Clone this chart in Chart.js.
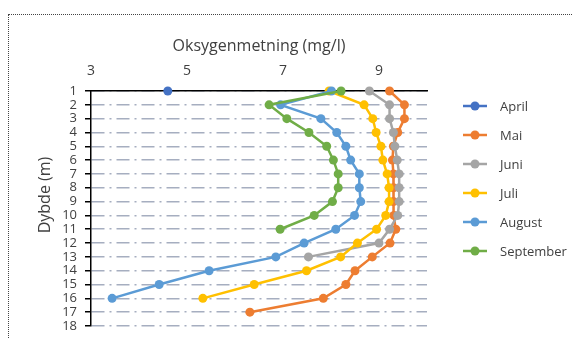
<!DOCTYPE html>
<html>
<head>
<meta charset="utf-8">
<script src="https://cdn.jsdelivr.net/npm/chart.js@4"></script>
<style>
  body { margin: 0; background: #fff; }
  #wrap { position: relative; width: 572px; height: 338px; overflow: hidden; }
  #frame { position: absolute; left: 8px; top: 14px; width: 700px; height: 500px; border: 1px dotted #444; }
  canvas { position: absolute; left: 0; top: 0; }
</style>
</head>
<body>
<div id="wrap">
  <div id="frame"></div>
  <canvas id="chart" width="572" height="338"></canvas>
</div>
<script>
// dybde (m) og oksygen per måned
const depths = [1, 2, 3, 4, 5, 6, 7, 8, 9, 10, 11, 12, 13, 14, 15, 16, 17, 18];
const xTicks = [3, 5, 7, 9];
const april = [4.6];
const mai = [9.22, 9.53, 9.53, 9.39, 9.30, 9.28, 9.30, 9.30, 9.30, 9.31, 9.35, 9.23, 8.86, 8.50, 8.31, 7.84, 6.31];
const juni = [8.80, 9.22, 9.22, 9.30, 9.33, 9.38, 9.42, 9.42, 9.42, 9.39, 9.22, 9.00, 7.53];
const juli = [7.96, 8.69, 8.87, 8.94, 9.04, 9.08, 9.17, 9.21, 9.21, 9.14, 8.95, 8.55, 8.20, 7.49, 6.40, 5.33];
const august = [8.01, 6.95, 7.79, 8.12, 8.31, 8.41, 8.59, 8.59, 8.62, 8.49, 8.10, 7.44, 6.85, 5.46, 4.42, 3.44];
const september = [8.21, 6.71, 7.08, 7.54, 7.91, 8.05, 8.15, 8.15, 8.03, 7.65, 6.94];

const FONT = "'Open Sans', sans-serif";

// lag ett datasett: verdi på x, dybde på y
const makeSet = (label, values, color, i) => ({
    label: label,
    data: values.map((v, k) => ({ x: v, y: depths[k] })),
    borderColor: color,
    backgroundColor: color,
    borderWidth: 2.5,
    pointRadius: 4.5,
    pointBorderWidth: 0,
    pointHoverRadius: 4.5,
    clip: false,
    order: 10 - i // senere serier tegnes øverst
});

const series = [
    ['April', april, '#4472C4'],
    ['Mai', mai, '#ED7D31'],
    ['Juni', juni, '#A5A5A5'],
    ['Juli', juli, '#FFC000'],
    ['August', august, '#5B9BD5'],
    ['September', september, '#70AD47']
];

// egen forklaring og y-tittel
const extras = {
    id: 'extras',
    afterDraw(chart) {
        const ctx = chart.ctx;
        ctx.save();
        ctx.font = '13px ' + FONT;
        ctx.textBaseline = 'middle';
        series.forEach((s, i) => {
            const y = 106 + i * 29;
            ctx.strokeStyle = s[2];
            ctx.lineWidth = 2.5;
            ctx.beginPath();
            ctx.moveTo(463, y);
            ctx.lineTo(487, y);
            ctx.stroke();
            ctx.fillStyle = s[2];
            ctx.beginPath();
            ctx.arc(475, y, 4.5, 0, Math.PI * 2);
            ctx.fill();
            ctx.fillStyle = '#404040';
            ctx.textAlign = 'left';
            ctx.fillText(s[0], 500, y + 1);
        });
        ctx.translate(45, 195);
        ctx.rotate(-Math.PI / 2);
        ctx.font = '16px ' + FONT;
        ctx.textAlign = 'center';
        ctx.fillStyle = '#404040';
        ctx.fillText('Dybde (m)', 0, 0);
        ctx.restore();
    }
};

new Chart(document.getElementById('chart'), {
    type: 'line',
    data: { datasets: series.map((s, i) => makeSet(s[0], s[1], s[2], i)) },
    options: {
        responsive: false,
        animation: false,
        layout: { padding: { left: 0, right: 145, top: 0, bottom: 12 } },
        plugins: { legend: { display: false }, tooltip: { enabled: false } },
        scales: {
            x: {
                type: 'linear',
                position: 'top',
                min: 3,
                max: 10,
                afterBuildTicks: (s) => { s.ticks = xTicks.map(v => ({ value: v })); },
                afterFit: (s) => { s.height = 91; s.paddingLeft = 0; s.paddingRight = 0; },
                grid: { display: false, drawTicks: false },
                border: { display: true, color: '#000', width: 1.5 },
                ticks: { padding: 12, color: '#404040', font: { family: FONT, size: 14 } },
                title: {
                    display: true,
                    text: 'Oksygenmetning (mg/l)',
                    color: '#404040',
                    font: { family: FONT, size: 16 },
                    padding: { top: 37, bottom: 0 }
                }
            },
            y: {
                type: 'linear',
                reverse: true,
                min: 1,
                max: 18,
                afterBuildTicks: (s) => { s.ticks = depths.map(v => ({ value: v })); },
                afterFit: (s) => { s.width = 91; s.paddingTop = 0; s.paddingBottom = 0; },
                grid: { color: '#A6AEC0', lineWidth: 1.5, tickColor: '#000', tickLength: 6, tickBorderDash: [] },
                border: { display: true, color: '#000', width: 1.5, dash: [13, 5, 2, 5] },
                ticks: { autoSkip: false, padding: 8, color: '#404040', font: { family: FONT, size: 13 } }
            }
        }
    },
    plugins: [extras]
});
</script>
</body>
</html>
